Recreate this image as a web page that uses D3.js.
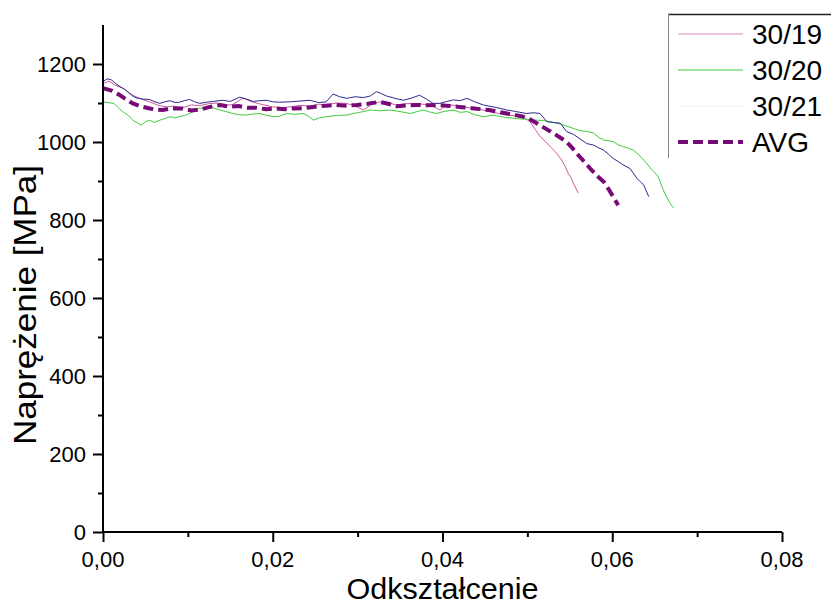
<!DOCTYPE html>
<html>
<head>
<meta charset="utf-8">
<script src="https://cdn.jsdelivr.net/npm/d3@7"></script>
<style>
  body { margin: 0; background: #fff; }
  svg { display: block; font-family: "Liberation Sans", Arial, sans-serif; }
</style>
</head>
<body>
<div id="chart"></div>
<script>
// strain / stress readings for each sample
const strain19 = [0, 0.0007, 0.0014, 0.0023, 0.0035, 0.0045, 0.0055, 0.0065, 0.0075, 0.0085, 0.0093, 0.0104, 0.0114, 0.0124, 0.0134, 0.0145, 0.0153, 0.0165, 0.0174, 0.0182, 0.0192, 0.02, 0.021, 0.022, 0.0232, 0.0244, 0.0254, 0.0263, 0.0275, 0.0287, 0.0297, 0.0307, 0.0316, 0.0326, 0.0336, 0.0346, 0.0356, 0.0366, 0.0376, 0.0385, 0.0397, 0.0405, 0.0415, 0.0425, 0.0436, 0.0448, 0.046, 0.0476, 0.0486, 0.0495, 0.0503, 0.0509, 0.0515, 0.0521, 0.0527, 0.0533, 0.0539, 0.0544, 0.0548, 0.0551, 0.0554, 0.0557, 0.056];
const stress19 = [1150, 1156, 1146, 1138, 1120, 1110, 1103, 1094, 1090, 1092, 1087, 1095, 1093, 1098, 1100, 1094, 1096, 1113, 1104, 1099, 1094, 1090, 1088, 1090, 1094, 1092, 1097, 1095, 1100, 1099, 1092, 1082, 1096, 1103, 1100, 1095, 1098, 1099, 1097, 1095, 1082, 1095, 1094, 1090, 1086, 1082, 1076, 1069, 1067, 1065, 1052, 1033, 1014, 1002, 988, 975, 958, 940, 920, 910, 895, 882, 869];

const strain20 = [0, 0.0006, 0.0013, 0.0018, 0.0023, 0.003, 0.0035, 0.004, 0.0045, 0.005, 0.0055, 0.006, 0.0067, 0.0073, 0.0079, 0.0085, 0.009, 0.0096, 0.0102, 0.0108, 0.0114, 0.012, 0.0126, 0.0132, 0.0138, 0.0145, 0.0153, 0.016, 0.0169, 0.0177, 0.0185, 0.0193, 0.0201, 0.0208, 0.0216, 0.0226, 0.0236, 0.0242, 0.0248, 0.0255, 0.0263, 0.0275, 0.0287, 0.0297, 0.0307, 0.0315, 0.0326, 0.0338, 0.035, 0.0362, 0.0377, 0.0385, 0.0393, 0.0401, 0.0413, 0.0421, 0.0429, 0.0438, 0.0448, 0.046, 0.0474, 0.0487, 0.05, 0.0511, 0.0519, 0.0527, 0.0535, 0.0543, 0.0554, 0.0562, 0.057, 0.0578, 0.0584, 0.059, 0.0596, 0.0601, 0.0607, 0.0613, 0.0619, 0.0625, 0.0631, 0.0637, 0.0641, 0.0645, 0.065, 0.0654, 0.0657, 0.066, 0.0663, 0.0666, 0.0669, 0.0672];
const stress20 = [1103, 1101, 1099, 1088, 1078, 1068, 1056, 1050, 1043, 1052, 1056, 1050, 1056, 1060, 1065, 1062, 1065, 1068, 1073, 1080, 1087, 1086, 1090, 1086, 1082, 1078, 1073, 1070, 1069, 1072, 1073, 1068, 1065, 1066, 1073, 1071, 1073, 1066, 1056, 1062, 1065, 1068, 1069, 1074, 1078, 1082, 1080, 1082, 1078, 1073, 1082, 1077, 1073, 1078, 1082, 1076, 1078, 1070, 1065, 1069, 1063, 1060, 1058, 1056, 1055, 1052, 1048, 1043, 1035, 1029, 1027, 1023, 1012, 1005, 1003, 1001, 993, 988, 984, 979, 968, 954, 944, 933, 922, 911, 895, 877, 864, 851, 840, 831];

const strain21 = [0, 0.0005, 0.001, 0.0015, 0.002, 0.0025, 0.0031, 0.0035, 0.0039, 0.0047, 0.0055, 0.006, 0.0067, 0.0073, 0.0079, 0.0085, 0.009, 0.0096, 0.0102, 0.0108, 0.0114, 0.0122, 0.013, 0.0141, 0.015, 0.0161, 0.0169, 0.0177, 0.0185, 0.0193, 0.02, 0.0208, 0.022, 0.0232, 0.0244, 0.0254, 0.0263, 0.0271, 0.0279, 0.0287, 0.0297, 0.0307, 0.0315, 0.0322, 0.0328, 0.0334, 0.0344, 0.0354, 0.0364, 0.0373, 0.0381, 0.0389, 0.0397, 0.0405, 0.0413, 0.0421, 0.0429, 0.0438, 0.0448, 0.0462, 0.0476, 0.0487, 0.0499, 0.0507, 0.0515, 0.0523, 0.0531, 0.0539, 0.0546, 0.0554, 0.0562, 0.057, 0.0578, 0.0584, 0.059, 0.0596, 0.0601, 0.0607, 0.0613, 0.0621, 0.0629, 0.0633, 0.0637, 0.064, 0.0643];
const stress21 = [1155, 1162, 1159, 1150, 1142, 1136, 1125, 1118, 1113, 1110, 1109, 1104, 1099, 1103, 1106, 1101, 1102, 1106, 1109, 1103, 1099, 1102, 1104, 1107, 1104, 1115, 1110, 1104, 1106, 1107, 1103, 1102, 1103, 1105, 1107, 1101, 1103, 1123, 1116, 1112, 1116, 1114, 1118, 1129, 1124, 1118, 1112, 1107, 1113, 1120, 1110, 1099, 1099, 1104, 1108, 1106, 1112, 1103, 1095, 1089, 1082, 1078, 1073, 1075, 1073, 1052, 1050, 1048, 1027, 1020, 1008, 996, 992, 985, 979, 968, 958, 950, 941, 932, 907, 898, 890, 875, 860];

const strainAvg = [0, 0.001, 0.002, 0.0028, 0.0035, 0.0045, 0.0055, 0.0062, 0.007, 0.008, 0.0093, 0.0104, 0.0114, 0.0126, 0.0138, 0.0148, 0.016, 0.017, 0.018, 0.0192, 0.0204, 0.0214, 0.0224, 0.0236, 0.0248, 0.0262, 0.0275, 0.0287, 0.0299, 0.0312, 0.0326, 0.0336, 0.0346, 0.0358, 0.037, 0.0382, 0.0393, 0.0405, 0.042, 0.0437, 0.0455, 0.0476, 0.0495, 0.0503, 0.0511, 0.0521, 0.0531, 0.0539, 0.0546, 0.0552, 0.0558, 0.0566, 0.0574, 0.0582, 0.059, 0.0596, 0.0601, 0.0607];
const stressAvg = [1138, 1132, 1120, 1108, 1099, 1091, 1086, 1083, 1082, 1086, 1086, 1081, 1083, 1090, 1095, 1091, 1092, 1088, 1088, 1084, 1086, 1084, 1086, 1087, 1090, 1093, 1095, 1093, 1095, 1098, 1103, 1098, 1092, 1094, 1095, 1094, 1095, 1093, 1090, 1086, 1082, 1073, 1065, 1058, 1048, 1035, 1022, 1011, 1001, 987, 971, 952, 932, 913, 898, 878, 860, 838];

const seriesNames = ["30/19", "30/20", "30/21", "AVG"];
const xTicks = [0, 0.02, 0.04, 0.06, 0.08];
const yTicks = [0, 200, 400, 600, 800, 1000, 1200];

const width = 831, height = 604;
const margin = { top: 25, right: 49, bottom: 72, left: 103 };

const series = [
    { name: seriesNames[0], x: strain19, y: stress19, color: "#d2589f", width: 1, dash: null, legendColor: "#d98cc0" },
    { name: seriesNames[1], x: strain20, y: stress20, color: "#3fcc3f", width: 1, dash: null, legendColor: "#3fcc3f" },
    { name: seriesNames[2], x: strain21, y: stress21, color: "#2a2a90", width: 1, dash: null, legendColor: "#eeeef3" },
    { name: seriesNames[3], x: strainAvg, y: stressAvg, color: "#780a78", width: 4, dash: "10,5", legendColor: "#780a78" }
];

const svg = d3.select("#chart").append("svg")
    .attr("width", width)
    .attr("height", height);

const xScale = d3.scaleLinear()
    .domain([0, 0.08])
    .range([margin.left, width - margin.right]);

const yScale = d3.scaleLinear()
    .domain([0, 1300])
    .range([height - margin.bottom, margin.top]);

// Lines
const line = d3.line()
    .x(d => xScale(d[0]))
    .y(d => yScale(d[1]));

series.forEach(s => {
    const pts = s.x.map((v, i) => [v, s.y[i]]);
    svg.append("path")
        .datum(pts)
        .attr("d", line)
        .attr("fill", "none")
        .attr("stroke", s.color)
        .attr("stroke-width", s.width)
        .attr("stroke-dasharray", s.dash);
});

// Axes
const fmt = d => d3.format(".2f")(d).replace(".", ",");

const xAxis = svg.append("g")
    .attr("transform", `translate(0, ${yScale(0)})`)
    .call(d3.axisBottom(xScale).tickValues(d3.range(0, 0.0801, 0.01)).tickSize(5).tickFormat(""));
xAxis.selectAll(".tick line").filter((d, i) => i % 2 === 0).attr("y2", 10);

const yAxis = svg.append("g")
    .attr("transform", `translate(${xScale(0)}, 0)`)
    .call(d3.axisLeft(yScale).tickValues(d3.range(0, 1300, 100)).tickSize(5).tickFormat(""));
yAxis.selectAll(".tick line").filter((d, i) => i % 2 === 0).attr("x2", -10);

[xAxis, yAxis].forEach(a => {
    a.select(".domain").attr("stroke", "#000").attr("stroke-width", 2);
    a.selectAll(".tick line").attr("stroke", "#000").attr("stroke-width", 2);
});
xAxis.select(".domain").attr("d", `M${xScale(0) - 1},0H${xScale(0.08)}`);
yAxis.select(".domain").attr("d", `M0,${yScale(0) + 1}V${yScale(1300)}`);

svg.append("g")
    .selectAll("text")
    .data(xTicks)
    .enter()
    .append("text")
    .attr("x", d => xScale(d))
    .attr("y", yScale(0) + 35)
    .attr("text-anchor", "middle")
    .style("font-size", "22px")
    .text(fmt);

svg.append("g")
    .selectAll("text")
    .data(yTicks)
    .enter()
    .append("text")
    .attr("x", xScale(0) - 17)
    .attr("y", d => yScale(d) + 8)
    .attr("text-anchor", "end")
    .style("font-size", "22px")
    .text(d => d);

svg.append("text")
    .attr("x", (xScale(0) + xScale(0.08)) / 2)
    .attr("y", 599)
    .attr("text-anchor", "middle")
    .attr("textLength", 192)
    .attr("lengthAdjust", "spacingAndGlyphs")
    .style("font-size", "29px")
    .text("Odkształcenie");

svg.append("text")
    .attr("transform", "translate(36, 305) rotate(-90)")
    .attr("text-anchor", "middle")
    .attr("textLength", 280)
    .attr("lengthAdjust", "spacingAndGlyphs")
    .style("font-size", "31px")
    .text("Naprężenie [MPa]");

// Legend
const legend = svg.append("g");
legend.append("line")
    .attr("x1", 668).attr("x2", width)
    .attr("y1", 14.5).attr("y2", 14.5)
    .attr("stroke", "#222").attr("stroke-width", 1.5);
legend.append("line")
    .attr("x1", 668.5).attr("x2", 668.5)
    .attr("y1", 14).attr("y2", 158)
    .attr("stroke", "#888").attr("stroke-width", 1);

series.forEach((s, i) => {
    const cy = 34 + i * 36;
    legend.append("line")
        .attr("x1", 678).attr("x2", 743)
        .attr("y1", cy).attr("y2", cy)
        .attr("stroke", s.legendColor)
        .attr("stroke-width", s.width === 1 ? 1.2 : 4)
        .attr("stroke-dasharray", s.dash);
    legend.append("text")
        .attr("x", 752)
        .attr("y", cy + 9.5)
        .style("font-size", "28px")
        .text(s.name);
});
</script>
</body>
</html>
